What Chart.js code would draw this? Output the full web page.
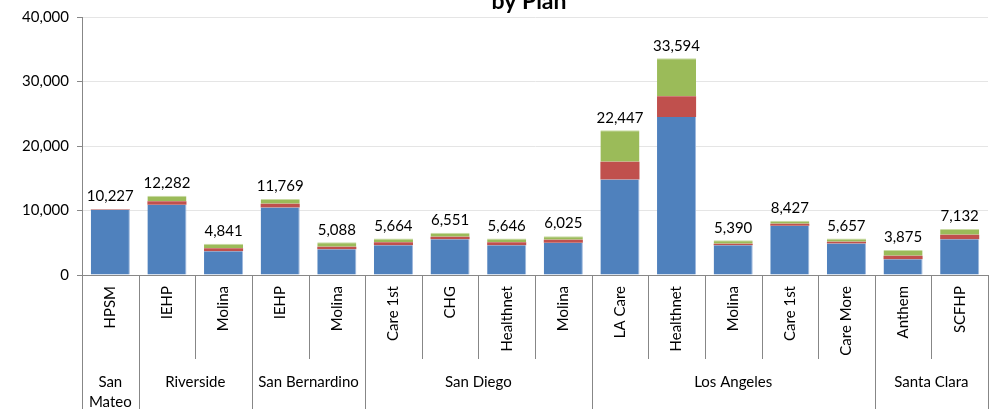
<!DOCTYPE html>
<html><head><meta charset="utf-8">
<script src="https://cdn.jsdelivr.net/npm/chart.js@4"></script>
<style>html,body{margin:0;padding:0;background:#fff;}#wrap{width:994px;height:409px;position:relative;}</style>
</head><body><div id="wrap"><canvas id="c" width="994" height="409"></canvas></div>
<script>
const plans = ["HPSM","IEHP","Molina","IEHP","Molina","Care 1st","CHG","Healthnet","Molina","LA Care","Healthnet","Molina","Care 1st","Care More","Anthem","SCFHP"];
const counties = [["San","Mateo"],["Riverside"],["San Bernardino"],["San Diego"],["Los Angeles"],["Santa Clara"]];
const countySpans = [1,2,2,4,5,2];
const totals = [10227,12282,4841,11769,5088,5664,6551,5646,6025,22447,33594,5390,8427,5657,3875,7132];
const blueVals = [10120,10880,3670,10480,3980,4600,5525,4600,5000,14810,24500,4600,7630,4900,2430,5525];
const redVals = [60,570,460,560,400,460,405,460,465,2730,3210,250,310,260,560,715];
const greenVals = totals.map((t,i)=>t-blueVals[i]-redVals[i]);
const yTicks = [0,10000,20000,30000,40000];
const titleText = "by Plan";
const FONT = "Lato";

const fmt = v => v.toLocaleString('en-US');

const overlay = {
  id:'overlay',
  afterDraw(chart){
    const ctx = chart.ctx, ca = chart.chartArea, xs = chart.scales.x, ys = chart.scales.y;
    ctx.save();
    // title
    ctx.fillStyle = '#000';
    ctx.font = 'bold 23px ' + FONT;
    ctx.textAlign = 'center';
    ctx.textBaseline = 'alphabetic';
    ctx.fillText(titleText, 529, 9);
    // totals
    ctx.font = '15px ' + FONT;
    ctx.textBaseline = 'bottom';
    totals.forEach((t,i)=>{
      ctx.fillText(fmt(t), xs.getPixelForValue(i), ys.getPixelForValue(t) - 5);
    });
    // axis line
    ctx.strokeStyle = '#878787';
    ctx.lineWidth = 1;
    ctx.beginPath();
    ctx.moveTo(ca.left, Math.round(ca.bottom)+0.5);
    ctx.lineTo(ca.right, Math.round(ca.bottom)+0.5);
    ctx.stroke();
    const w = (ca.right - ca.left)/plans.length;
    const groupEnds = new Set();
    let acc = 0; countySpans.forEach(s=>{acc+=s; groupEnds.add(acc);});
    for(let k=0;k<=plans.length;k++){
      const x = Math.round(ca.left + k*w)+0.5;
      const full = k===0 || groupEnds.has(k);
      ctx.beginPath();
      ctx.moveTo(x, ca.bottom);
      ctx.lineTo(x, full ? 409 : 359);
      ctx.stroke();
    }
    // plan labels rotated
    ctx.fillStyle = '#000';
    ctx.font = '15px ' + FONT;
    plans.forEach((p,i)=>{
      const x = xs.getPixelForValue(i);
      ctx.save();
      ctx.translate(x, ca.bottom + 11);
      ctx.rotate(-Math.PI/2);
      ctx.textAlign = 'right';
      ctx.textBaseline = 'middle';
      ctx.fillText(p, 0, 0);
      ctx.restore();
    });
    // county labels
    ctx.font = '15px ' + FONT;
    ctx.textAlign = 'center';
    ctx.textBaseline = 'middle';
    let start = 0;
    counties.forEach((lines,g)=>{
      const end = start + countySpans[g];
      const cx = ca.left + (start+end)/2*w;
      lines.forEach((ln,j)=>ctx.fillText(ln, cx, 382 + j*20));
      start = end;
    });
    ctx.restore();
  }
};

new Chart(document.getElementById('c'), {
  type:'bar',
  data:{
    labels: plans,
    datasets:[
      {label:'Blue', data: blueVals, backgroundColor:'#4F81BD', borderColor:'#9DB7DD', borderWidth:{right:1,left:0,top:0,bottom:0}},
      {label:'Red', data: redVals, backgroundColor:'#C0504D', borderColor:'#C0504D', borderWidth:0},
      {label:'Green', data: greenVals, backgroundColor:'#9BBB59', borderColor:'#C9DBA5', borderWidth:{top:1,left:0,right:0,bottom:0}}
    ]
  },
  options:{
    responsive:false,
    animation:false,
    devicePixelRatio:1,
    layout:{padding:{left:0,right:6,top:17,bottom:134}},
    plugins:{legend:{display:false},tooltip:{enabled:false},title:{display:false}},
    datasets:{bar:{categoryPercentage:1,barPercentage:0.69}},
    scales:{
      x:{stacked:true, display:false},
      y:{stacked:true, min:0, max:40000,
        afterFit(s){ s.width = 82; },
        afterBuildTicks(s){ s.ticks = yTicks.map(v=>({value:v})); },
        ticks:{color:'#000', font:{family:FONT,size:15}, padding:8, callback:v=>fmt(v)},
        grid:{color:'#E5E5E5', tickColor:'#878787', tickLength:5, drawTicks:true},
        border:{color:'#878787'}
      }
    }
  },
  plugins:[overlay]
});
</script></body></html>
